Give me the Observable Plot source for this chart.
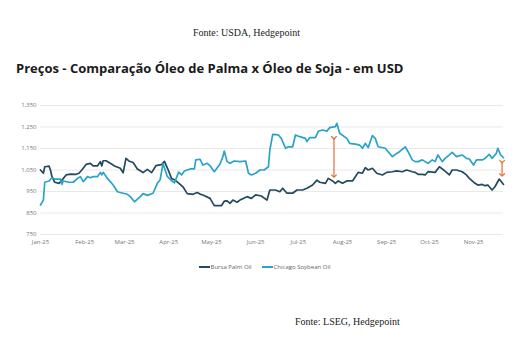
<!DOCTYPE html>
<html><head><meta charset="utf-8">
<script src="https://cdn.jsdelivr.net/npm/d3@7"></script>
<script src="https://cdn.jsdelivr.net/npm/@observablehq/plot@0.6"></script>
<style>
body{margin:0;background:#fff;width:529px;height:357px;position:relative;overflow:hidden;font-family:"Open Sans",sans-serif;}
.src{position:absolute;font-family:"Liberation Serif","Times New Roman",serif;font-size:10px;color:#222;white-space:nowrap;}
#title{position:absolute;left:16px;top:59px;font-family:"Open Sans",sans-serif;font-weight:700;font-size:13px;color:#1a1a1a;white-space:nowrap;}
#chart{position:absolute;left:0;top:95px;}
#legend{position:absolute;top:263px;left:0;width:529px;text-align:center;font-size:6px;color:#666;}
#legend span{display:inline-block;margin:0 5px;}
#legend i{display:inline-block;width:11px;height:2px;vertical-align:middle;margin-right:1px;}
</style></head>
<body>
<div class="src" id="s1" style="left:193px;top:27px;">Fonte: USDA, Hedgepoint</div>
<div id="title">Preços - Comparação Óleo de Palma x Óleo de Soja - em USD</div>
<div id="chart"></div>
<div id="legend"><span><i style="background:#23495f"></i>Bursa Palm Oil</span><span><i style="background:#2aa3c8"></i>Chicago Soybean Oil</span></div>
<div class="src" id="s2" style="left:295px;top:316px;">Fonte: LSEG, Hedgepoint</div>
<script>
const palmDates = ["2025-01-01","2025-01-03","2025-01-04","2025-01-07","2025-01-08","2025-01-09","2025-01-11","2025-01-14","2025-01-16","2025-01-19","2025-01-22","2025-01-26","2025-01-28","2025-01-30","2025-02-02","2025-02-05","2025-02-07","2025-02-10","2025-02-12","2025-02-13","2025-02-14","2025-02-16","2025-02-19","2025-02-22","2025-02-26","2025-02-28","2025-03-02","2025-03-04","2025-03-07","2025-03-10","2025-03-14","2025-03-17","2025-03-20","2025-03-23","2025-03-27","2025-03-29","2025-04-01","2025-04-03","2025-04-05","2025-04-07","2025-04-11","2025-04-14","2025-04-18","2025-04-21","2025-04-23","2025-04-25","2025-04-30","2025-05-03","2025-05-08","2025-05-10","2025-05-12","2025-05-14","2025-05-16","2025-05-19","2025-05-21","2025-05-26","2025-05-29","2025-06-01","2025-06-05","2025-06-09","2025-06-11","2025-06-15","2025-06-18","2025-06-20","2025-06-23","2025-06-27","2025-06-30","2025-07-04","2025-07-07","2025-07-11","2025-07-14","2025-07-16","2025-07-20","2025-07-22","2025-07-25","2025-07-27","2025-07-29","2025-08-01","2025-08-04","2025-08-08","2025-08-10","2025-08-12","2025-08-15","2025-08-17","2025-08-19","2025-08-22","2025-08-25","2025-08-29","2025-09-01","2025-09-05","2025-09-08","2025-09-12","2025-09-15","2025-09-19","2025-09-21","2025-09-23","2025-09-26","2025-09-28","2025-09-30","2025-10-05","2025-10-08","2025-10-10","2025-10-13","2025-10-15","2025-10-17","2025-10-20","2025-10-24","2025-10-27","2025-10-29","2025-11-02","2025-11-04","2025-11-07","2025-11-09","2025-11-11","2025-11-14","2025-11-16","2025-11-19","2025-11-22"];
const palmValues = [1050,1035,1065,1068,1050,1020,993,988,1003,1027,1031,1030,1035,1050,1076,1081,1069,1069,1089,1069,1093,1093,1081,1069,1058,1037,1104,1092,1085,1055,1038,1053,1038,1070,1075,1090,1045,1010,1005,995,972,940,937,945,938,934,918,884,884,905,906,895,910,900,910,926,918,934,929,910,957,957,949,965,942,942,957,957,965,980,1003,993,988,1011,999,988,999,988,999,999,1019,1039,1035,1061,1050,1058,1035,1027,1039,1042,1046,1042,1050,1042,1039,1030,1030,1027,1042,1039,1065,1055,1039,1027,1050,1050,1042,1027,1011,988,980,983,977,980,957,972,1008,983];
const soyDates = ["2025-01-01","2025-01-03","2025-01-04","2025-01-07","2025-01-09","2025-01-11","2025-01-15","2025-01-16","2025-01-17","2025-01-21","2025-01-24","2025-01-27","2025-01-29","2025-01-31","2025-02-03","2025-02-05","2025-02-07","2025-02-10","2025-02-12","2025-02-13","2025-02-14","2025-02-17","2025-02-21","2025-02-24","2025-02-28","2025-03-03","2025-03-05","2025-03-08","2025-03-12","2025-03-14","2025-03-17","2025-03-21","2025-03-24","2025-03-26","2025-03-28","2025-03-31","2025-04-03","2025-04-05","2025-04-08","2025-04-10","2025-04-12","2025-04-16","2025-04-19","2025-04-20","2025-04-23","2025-04-25","2025-04-28","2025-04-30","2025-05-03","2025-05-07","2025-05-09","2025-05-10","2025-05-12","2025-05-14","2025-05-17","2025-05-21","2025-05-25","2025-05-27","2025-05-29","2025-06-01","2025-06-04","2025-06-07","2025-06-10","2025-06-11","2025-06-13","2025-06-17","2025-06-19","2025-06-22","2025-06-24","2025-06-27","2025-06-29","2025-07-02","2025-07-06","2025-07-07","2025-07-09","2025-07-13","2025-07-15","2025-07-18","2025-07-21","2025-07-23","2025-07-27","2025-07-28","2025-07-30","2025-08-04","2025-08-06","2025-08-11","2025-08-13","2025-08-15","2025-08-17","2025-08-19","2025-08-22","2025-08-24","2025-08-26","2025-08-31","2025-09-02","2025-09-05","2025-09-08","2025-09-10","2025-09-14","2025-09-16","2025-09-19","2025-09-21","2025-09-23","2025-09-26","2025-09-28","2025-09-30","2025-10-03","2025-10-05","2025-10-07","2025-10-10","2025-10-12","2025-10-15","2025-10-17","2025-10-20","2025-10-24","2025-10-27","2025-10-29","2025-11-01","2025-11-03","2025-11-07","2025-11-09","2025-11-12","2025-11-14","2025-11-17","2025-11-18","2025-11-20","2025-11-22"];
const soyValues = [887,910,993,999,1014,1008,1008,983,999,993,993,1011,1019,996,1019,1014,1019,1019,1039,1027,1039,1011,980,949,942,937,926,902,926,940,932,942,988,1005,1080,1020,1000,990,1040,1027,1045,1055,1055,1097,1100,1073,1081,1070,1042,1078,1112,1138,1089,1081,1092,1089,1092,1035,1027,1035,1050,1050,1065,1143,1216,1213,1197,1151,1158,1158,1213,1205,1197,1182,1201,1201,1230,1236,1231,1247,1252,1267,1221,1197,1174,1169,1166,1151,1174,1154,1210,1197,1158,1151,1135,1112,1127,1135,1158,1135,1097,1089,1089,1097,1089,1081,1097,1089,1120,1089,1104,1120,1132,1112,1120,1104,1101,1073,1097,1097,1104,1123,1104,1128,1151,1120,1107];
const seriesNames = ["Bursa Palm Oil","Chicago Soybean Oil"];
const yTicks = [750,850,950,1050,1150,1250,1350];
const arrowDates = ["2025-07-26","2025-11-21"];
const arrowTop = [1200,1089];
const arrowBottom = [1022,1027];

const parse = d3.utcParse("%Y-%m-%d");
const rows = [
  ...palmDates.map((d,i)=>({date:parse(d),value:palmValues[i],series:seriesNames[0]})),
  ...soyDates.map((d,i)=>({date:parse(d),value:soyValues[i],series:seriesNames[1]}))
];
const arrows = arrowDates.map((d,i)=>({date:parse(d),top:arrowTop[i],bottom:arrowBottom[i]}));
const monthTicks = d3.utcMonth.range(parse("2025-01-01"), parse("2025-11-02"));

const chart = Plot.plot({
  width:529, height:155,
  marginLeft:40, marginRight:26, marginTop:10, marginBottom:16,
  style:{fontFamily:"Open Sans, sans-serif", fontSize:"6px", color:"#777", background:"transparent"},
  x:{type:"utc", domain:[parse("2025-01-01"), parse("2025-11-22")]},
  y:{domain:[750,1350]},
  color:{domain:seriesNames, range:["#23495f","#2aa3c8"]},
  marks:[
    Plot.gridY(yTicks,{stroke:"#e3e3e3", strokeOpacity:1, strokeWidth:0.8}),
    Plot.axisY(yTicks,{tickSize:0, tickPadding:4, tickFormat:d3.format(","), label:null, fill:"#777"}),
    Plot.axisX(monthTicks,{tickSize:0, tickPadding:5, tickFormat:d3.utcFormat("%b-%y"), label:null, fill:"#777"}),
    Plot.line(rows,{x:"date", y:"value", z:"series", stroke:"series", strokeWidth:1.7, curve:"linear"}),
    Plot.link(arrows,{x1:"date", x2:"date", y1:"top", y2:"bottom", stroke:"#e0703a", strokeWidth:1.2, markerStart:"arrow", markerEnd:"arrow"})
  ]
});
document.getElementById("chart").appendChild(chart);
</script>
</body></html>
